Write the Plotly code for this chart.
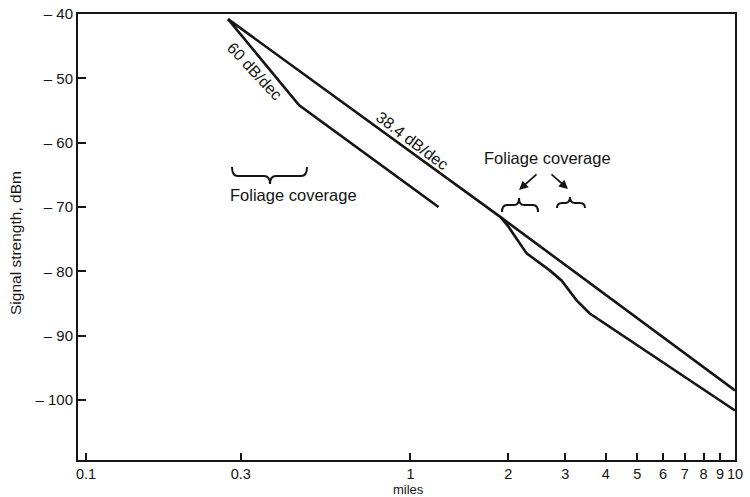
import plotly.graph_objects as go

# ---- data ----
upper_miles = [0.274, 1.9, 10]
upper_dbm = [-40.8, -71.6, -98.5]          # 38.4 dB/dec line

steep_miles = [0.274, 0.454, 1.22]
steep_dbm = [-40.8, -54.2, -70.0]          # 60 dB/dec then foliage-free slope

foliage_miles = [1.9, 2.0, 2.28, 2.68, 2.92, 3.25, 3.56, 10]
foliage_dbm = [-71.6, -73.0, -77.2, -79.8, -81.4, -84.5, -86.5, -101.6]

x_tickvals = [0.1, 0.3, 1, 2, 3, 4, 5, 6, 7, 8, 9, 10]
x_ticktext = ["0.1", "0.3", "1", "2", "3", "4", "5", "6", "7", "8", "9", "10"]
y_tickvals = [-40, -50, -60, -70, -80, -90, -100]
y_ticktext = ["– 40", "– 50", "– 60", "– 70", "– 80", "– 90", "– 100"]

FONT = "Liberation Sans, Arial, Helvetica, sans-serif"
INK = "#141414"
W, H = 750, 497
L, T = 78, 14
R, B = W - 735, H - 460

def px(x):
    return (x - L) / (W - L - R)

def py(y):
    return (H - B - y) / (H - T - B)

def brace(xa, xb, xm, y0, y1, y2, r=6):
    pts = [
        f"M {px(xa)},{py(y0)}",
        f"Q {px(xa)},{py(y1)} {px(xa + r)},{py(y1)}",
        f"L {px(xm - r)},{py(y1)}",
        f"Q {px(xm)},{py(y1)} {px(xm)},{py(y2)}",
        f"Q {px(xm)},{py(y1)} {px(xm + r)},{py(y1)}",
        f"L {px(xb - r)},{py(y1)}",
        f"Q {px(xb)},{py(y1)} {px(xb)},{py(y0)}",
    ]
    return dict(type="path", path=" ".join(pts), xref="paper", yref="paper",
                line=dict(color=INK, width=2))

fig = go.Figure()
line_style = dict(color=INK, width=2.6)
fig.add_trace(go.Scatter(x=upper_miles, y=upper_dbm, mode="lines", line=line_style, showlegend=False))
fig.add_trace(go.Scatter(x=steep_miles, y=steep_dbm, mode="lines", line=line_style, showlegend=False))
fig.add_trace(go.Scatter(x=foliage_miles, y=foliage_dbm, mode="lines", line=line_style, showlegend=False))

annots = [
    dict(x=px(255), y=py(71), text="60 dB/dec", textangle=47, size=16),
    dict(x=px(412), y=py(140), text="38.4 dB/dec", textangle=37, size=16),
    dict(x=px(293), y=py(195), text="Foliage coverage", size=16.5),
    dict(x=px(547), y=py(158), text="Foliage coverage", size=16.5),
    dict(x=px(408), y=py(489), text="miles", size=13),
    dict(x=px(15), y=py(243), text="Signal strength, dBm", textangle=-90, size=15.5),
]
for a in annots:
    size = a.pop("size", 15)
    fig.add_annotation(xref="paper", yref="paper", showarrow=False,
                       xanchor="center", yanchor="middle",
                       font=dict(family=FONT, size=size, color=INK), **a)

# arrows from the right label to its braces
for (hx, hy, tx, ty) in [(519, 190, 538, 173), (568, 189, 550, 173)]:
    fig.add_annotation(xref="paper", yref="paper", x=px(hx), y=py(hy),
                       ax=tx - hx, ay=ty - hy, text="", showarrow=True,
                       arrowhead=2, arrowsize=1, arrowwidth=1.8, arrowcolor=INK)

fig.update_layout(
    width=W, height=H,
    margin=dict(l=L, r=R, t=T, b=B, autoexpand=False),
    paper_bgcolor="white", plot_bgcolor="white",
    font=dict(family=FONT, size=15, color=INK),
    shapes=[
        brace(232, 307, 270, 167, 176, 184),
        brace(502, 538, 519, 212, 205, 198, r=5),
        brace(557, 585, 570, 208, 203, 197, r=5),
    ],
    xaxis=dict(type="log", range=[-1.0246, 1.0], tickvals=x_tickvals, ticktext=x_ticktext,
               automargin=False, ticklabeloverflow="allow",
               showgrid=False, zeroline=False, showline=True, linecolor=INK, linewidth=2,
               mirror=True, ticks="inside", ticklen=7, tickwidth=2, tickcolor=INK,
               tickfont=dict(family=FONT, size=14.5, color=INK)),
    yaxis=dict(range=[-109.3, -40], tickvals=y_tickvals, ticktext=y_ticktext,
               automargin=False, ticklabeloverflow="allow",
               showgrid=False, zeroline=False, showline=True, linecolor=INK, linewidth=2,
               mirror=True, ticks="inside", ticklen=8, tickwidth=2, tickcolor=INK,
               tickfont=dict(family=FONT, size=15, color=INK)),
)

# remove the browser's default page margin so the figure sits at the window's corner
fig.write_html("out.html", config={"displayModeBar": False},
               post_script="document.body.style.margin='0px';")
